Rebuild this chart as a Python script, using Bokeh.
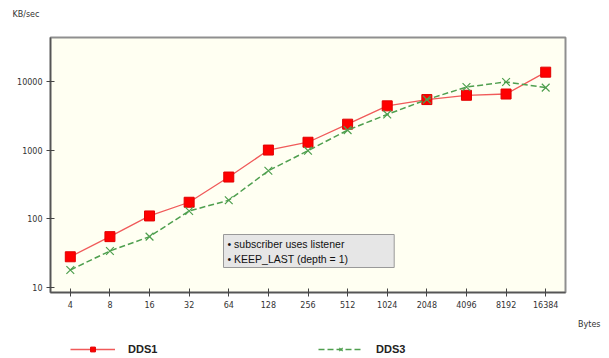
from bokeh.plotting import figure
from bokeh.layouts import column
from bokeh.models import (Range1d, FixedTicker, Label, Legend, LegendItem,
                          NumeralTickFormatter, Title)
from bokeh.embed import file_html
from bokeh.resources import INLINE

sizes = ["4", "8", "16", "32", "64", "128", "256", "512", "1024", "2048",
         "4096", "8192", "16384"]
dds1 = [28, 55, 110, 174, 405, 1000, 1300, 2380, 4400, 5430, 6270, 6540, 13600]
dds3 = [18, 34, 55, 130, 186, 500, 980, 1950, 3300, 5430, 8260, 9800, 8100]
y_ticks = [10, 100, 1000, 10000]

idx = list(range(len(sizes)))

RED_LINE = "#f05a5a"
RED = "#ff0000"
GREEN = "#4f9f4f"

# main chart
p = figure(width=609, height=335, y_axis_type="log",
           x_range=Range1d(-0.5, 12.5), y_range=Range1d(8.46, 43450),
           output_backend="svg", toolbar_location=None,
           min_border_left=50, min_border_right=44,
           min_border_top=37, min_border_bottom=42)

p.title.text = "KB/sec\n\u00a0"
p.title.align = "left"
p.title.vertical_align = "top"
p.title.offset = -38
p.title.standoff = 16
p.title.text_font = "DejaVu Sans"
p.title.text_font_size = "8px"
p.title.text_font_style = "normal"
p.title.text_color = "#333333"

p.background_fill_color = "#fffff2"
p.border_fill_color = "white"
p.outline_line_color = "#8f8f8f"
p.outline_line_width = 2
p.grid.visible = False

for ax in (p.xaxis, p.yaxis):
    ax.axis_line_color = "#555555"
    ax.axis_line_width = 1.5
    ax.major_tick_line_color = "#444444"
    ax.major_tick_in = 4
    ax.major_tick_out = 4
    ax.minor_tick_line_color = None
    ax.major_label_text_font = "DejaVu Sans"
    ax.major_label_text_font_size = "8px"
    ax.major_label_text_color = "#333333"

p.xaxis.ticker = FixedTicker(ticks=idx)
p.xaxis.major_label_overrides = {i: s for i, s in enumerate(sizes)}
p.xaxis.major_label_standoff = 4
p.yaxis.ticker = FixedTicker(ticks=y_ticks)
p.yaxis.formatter = NumeralTickFormatter(format="0")
p.yaxis.major_label_standoff = 4

p.line(idx, dds1, line_color=RED_LINE, line_width=1.3)
p.scatter(idx, dds1, marker="square", size=10, fill_color=RED, line_color="#e00000")
p.line(idx, dds3, line_color=GREEN, line_width=1.5, line_dash="6 3")
p.scatter(idx, dds3, marker="x", size=11, line_color=GREEN, line_width=1.2)

p.add_layout(Label(x=173, y=25, x_units="screen", y_units="screen",
                   text="\u2022 subscriber uses listener\n\u2022 KEEP_LAST (depth = 1)",
                   text_font="Liberation Sans", text_font_size="10.5px",
                   text_color="#111111", text_line_height=1.25,
                   anchor="bottom_left",
                   background_fill_color="#e6e6e6",
                   border_line_color="#999999", border_line_width=1,
                   padding=dict(left=4, right=46, top=3, bottom=3)))

p.add_layout(Title(text="Bytes", align="right", offset=-35, standoff=14,
                   text_font="DejaVu Sans", text_font_size="8px",
                   text_font_style="normal", text_color="#333333"), "below")

# legend strip (series drawn out of view, only their legend glyphs show)
bot = figure(width=609, height=23, x_range=Range1d(-0.5, 12.5),
             y_range=Range1d(-2e6, -1e6),
             x_axis_location=None, y_axis_location=None,
             output_backend="svg", toolbar_location=None,
             min_border_left=50, min_border_right=44,
             min_border_top=0, min_border_bottom=0)
bot.outline_line_color = None
bot.background_fill_color = "white"
bot.border_fill_color = "white"
bot.grid.visible = False
k1 = bot.line(idx, dds1, line_color=RED_LINE, line_width=1.3)
k2 = bot.scatter(idx, dds1, marker="square", size=10, fill_color=RED, line_color="#e00000")
k3 = bot.line(idx, dds3, line_color=GREEN, line_width=1.5, line_dash="6 3")
k4 = bot.scatter(idx, dds3, marker="x", size=11, line_color=GREEN, line_width=1.2)
bot.add_layout(Legend(items=[LegendItem(label="DDS1", renderers=[k1, k2]),
                             LegendItem(label="DDS3", renderers=[k3, k4])],
                      location=(20, 3), orientation="horizontal",
                      glyph_width=45, glyph_height=12, label_height=12,
                      label_width=170, spacing=20, label_standoff=13,
                      padding=0, margin=0,
                      background_fill_alpha=0, border_line_color=None,
                      label_text_font="Liberation Sans", label_text_font_style="bold",
                      label_text_font_size="11px", label_text_color="#222222"))

layout = column(p, bot, spacing=0)
open("out.html", "w").write(file_html(layout, INLINE))
